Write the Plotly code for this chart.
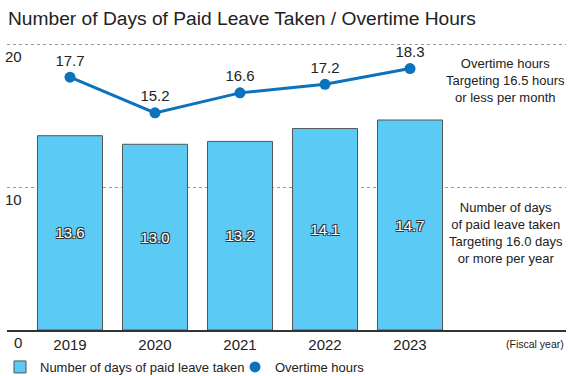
import plotly.graph_objects as go

years = ["2019", "2020", "2021", "2022", "2023"]
paid_leave_days = [13.6, 13.0, 13.2, 14.1, 14.7]
overtime_hours = [17.7, 15.2, 16.6, 17.2, 18.3]
y_ticks = [0, 10, 20]

BAR_FILL = "#5BCBF5"
BAR_EDGE = "#555555"
LINE_COL = "#0B72BD"
TXT = "#222222"
MAIN_FONT = "Liberation Sans, Arial, sans-serif"
NOTE_FONT = "Liberation Sans, Arial, sans-serif"

fig = go.Figure()

fig.add_trace(go.Bar(
    x=years, y=paid_leave_days,
    name="Number of days of paid leave taken",
    marker=dict(color=BAR_FILL, line=dict(color=BAR_EDGE, width=1)),
    width=0.765,
    text=[f"{v:.1f}" for v in paid_leave_days],
    textposition="inside", insidetextanchor="middle",
    textfont=dict(family=MAIN_FONT, size=15, color="white",
                  shadow="1px 1px 0 #333, -1px -1px 0 #333, 1px -1px 0 #333, -1px 1px 0 #333"),
    showlegend=True,
))

fig.add_trace(go.Scatter(
    x=years, y=overtime_hours,
    mode="lines+markers+text",
    name="Overtime hours",
    line=dict(color=LINE_COL, width=3),
    marker=dict(color=LINE_COL, size=11),
    text=[f"{v:.1f}" for v in overtime_hours],
    textposition="top center",
    textfont=dict(family=MAIN_FONT, size=15, color=TXT),
    showlegend=False,
))

# legend proxy for the line series (dot only)
fig.add_trace(go.Scatter(
    x=[None], y=[None], mode="markers", name="Overtime hours",
    marker=dict(color=LINE_COL, size=11), showlegend=True,
))

# y tick labels sit just below their gridlines, right-aligned near the left edge
tick_annotations = [
    dict(text=str(t), xref="paper", yref="y", x=(24 - 7) / 559, y=t,
         xanchor="right", yanchor="middle", yshift=-12, showarrow=False,
         font=dict(family=MAIN_FONT, size=15, color=TXT))
    for t in y_ticks
]

fig.update_layout(
    width=571, height=376,
    margin=dict(l=7, r=5, t=40, b=46, autoexpand=False),
    paper_bgcolor="white", plot_bgcolor="white",
    font=dict(family=MAIN_FONT, color=TXT),
    title=dict(text="Number of Days of Paid Leave Taken / Overtime Hours",
               x=8 / 571, xanchor="left", xref="container",
               y=1 - 18 / 376, yanchor="middle", yref="container",
               font=dict(family=MAIN_FONT, size=19.2, color=TXT)),
    legend=dict(orientation="h", xref="container", yref="container",
                x=0, xanchor="left", y=1 - 367 / 376, yanchor="middle",
                font=dict(family=MAIN_FONT, size=13, color=TXT),
                itemwidth=30, entrywidth=190, tracegroupgap=0,
                bgcolor="rgba(0,0,0,0)"),
    xaxis=dict(type="category", range=[-0.741, 5.835],
               showgrid=False, showline=True, linecolor="#333333", linewidth=1.5,
               ticks="", tickfont=dict(family=MAIN_FONT, size=15, color=TXT)),
    yaxis=dict(range=[0, 20.3], tickvals=y_ticks,
               showgrid=True, gridcolor="#999999", gridwidth=1, griddash="dot",
               zeroline=False, showline=False, ticks="", showticklabels=False),
    annotations=tick_annotations + [
        dict(text="Overtime hours<br>Targeting 16.5 hours<br>or less per month",
             xref="paper", yref="y", x=(505 - 7) / 559, y=17.5,
             xanchor="center", yanchor="middle", showarrow=False, align="center",
             font=dict(family=NOTE_FONT, size=13, color=TXT)),
        dict(text="Number of days<br>of paid leave taken<br>Targeting 16.0 days<br>or more per year",
             xref="paper", yref="y", x=(506 - 7) / 559, y=6.8,
             xanchor="center", yanchor="middle", showarrow=False, align="center",
             font=dict(family=NOTE_FONT, size=13, color=TXT)),
        dict(text="(Fiscal year)", xref="paper", yref="paper", x=1, y=0,
             xanchor="right", yanchor="middle", yshift=-14, showarrow=False,
             font=dict(family=NOTE_FONT, size=10.5, color=TXT)),
    ],
)

fig.write_html("out.html", config={"displayModeBar": False},
               post_script="document.body.style.margin='0';")
